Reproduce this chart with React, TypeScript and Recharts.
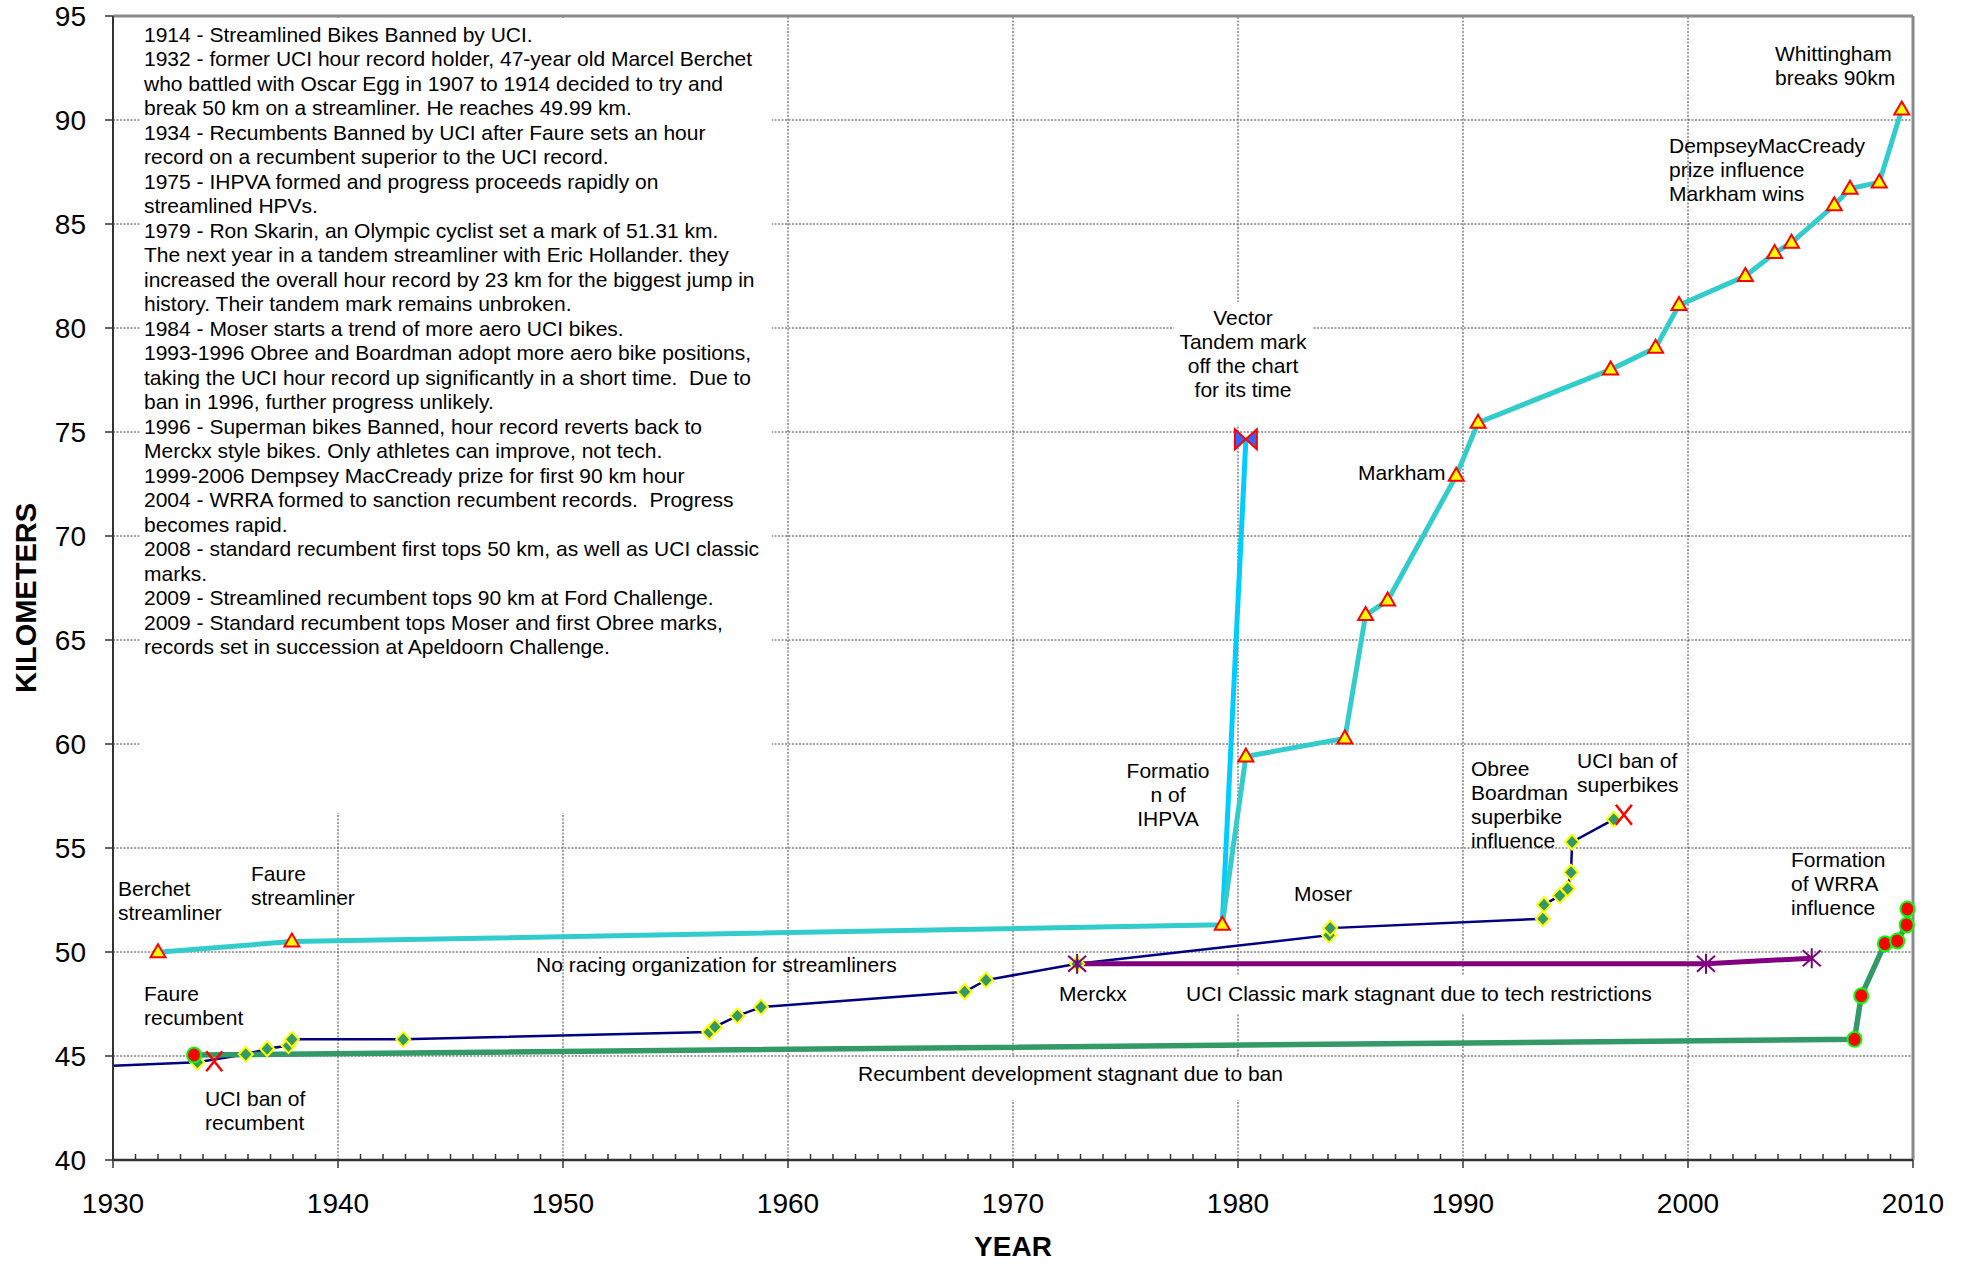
import React from 'react';
import { ComposedChart, Line, XAxis, YAxis, CartesianGrid, ReferenceLine } from 'recharts';

const FONT = '"Liberation Sans", Arial, Helvetica, sans-serif';

// streamlined HPV hour record (cyan, triangles)
const streamYears = [1932.0, 1937.95, 1979.3, 1980.35, 1984.75, 1985.67, 1986.65, 1989.7, 1990.67, 1996.56, 1998.56, 1999.6, 2002.55, 2003.85, 2004.6, 2006.5, 2007.2, 2008.5, 2009.5];
const streamKm = [49.99, 50.5, 51.31, 59.4, 60.27, 66.2, 66.9, 72.9, 75.45, 78.0, 79.05, 81.1, 82.5, 83.6, 84.1, 85.9, 86.7, 87.0, 90.5];

// Vector tandem jump (bright blue, bowtie at the top)
const tandemYears = [1979.3, 1980.35];
const tandemKm = [51.31, 74.65];

// UCI hour record (navy, diamonds) - the first entry is where the line enters the chart
const uciYears = [1930, 1933.75, 1935.9, 1936.85, 1937.8, 1937.95, 1942.9, 1956.5, 1956.75, 1957.75, 1958.8, 1967.85, 1968.8, 1972.85, 1984.05, 1984.1, 1993.55, 1993.6, 1994.3, 1994.65, 1994.8, 1994.85, 1996.7];
const uciKm = [44.53, 44.7, 45.08, 45.35, 45.5, 45.8, 45.8, 46.15, 46.4, 46.93, 47.35, 48.09, 48.65, 49.43, 50.81, 51.15, 51.6, 52.27, 52.71, 53.04, 53.83, 55.29, 56.38];

// UCI classic (Merckx style) mark (purple, asterisks)
const classicYears = [1972.85, 2000.8, 2005.5];
const classicKm = [49.43, 49.44, 49.7];

// standard recumbent (green, red circles)
const recumbYears = [1933.6, 2007.4, 2007.7, 2008.75, 2009.3, 2009.72, 2009.75];
const recumbKm = [45.05, 45.8, 47.9, 50.4, 50.53, 51.3, 52.07];

// UCI bans (red X)
const banYears = [1934.5, 1997.15];
const banKm = [44.75, 56.6];

const Y_TICKS = [40, 45, 50, 55, 60, 65, 70, 75, 80, 85, 90, 95];
const X_LABELS = [1930, 1940, 1950, 1960, 1970, 1980, 1990, 2000, 2010];
const X_GRID = [1940, 1950, 1960, 1970, 1980, 1990, 2000];
const X_TICKS = Array.from({ length: 81 }, (_, i) => 1930 + i);

const NOTES = [
  '1914 - Streamlined Bikes Banned by UCI.',
  '1932 - former UCI hour record holder, 47-year old Marcel Berchet',
  'who battled with Oscar Egg in 1907 to 1914 decided to try and',
  'break 50 km on a streamliner. He reaches 49.99 km.',
  '1934 - Recumbents Banned by UCI after Faure sets an hour',
  'record on a recumbent superior to the UCI record.',
  '1975 - IHPVA formed and progress proceeds rapidly on',
  'streamlined HPVs.',
  '1979 - Ron Skarin, an Olympic cyclist set a mark of 51.31 km.',
  'The next year in a tandem streamliner with Eric Hollander. they',
  'increased the overall hour record by 23 km for the biggest jump in',
  'history. Their tandem mark remains unbroken.',
  '1984 - Moser starts a trend of more aero UCI bikes.',
  '1993-1996 Obree and Boardman adopt more aero bike positions,',
  'taking the UCI hour record up significantly in a short time.  Due to',
  'ban in 1996, further progress unlikely.',
  '1996 - Superman bikes Banned, hour record reverts back to',
  'Merckx style bikes. Only athletes can improve, not tech.',
  '1999-2006 Dempsey MacCready prize for first 90 km hour',
  '2004 - WRRA formed to sanction recumbent records.  Progress',
  'becomes rapid.',
  '2008 - standard recumbent first tops 50 km, as well as UCI classic',
  'marks.',
  '2009 - Streamlined recumbent tops 90 km at Ford Challenge.',
  '2009 - Standard recumbent tops Moser and first Obree marks,',
  'records set in succession at Apeldoorn Challenge.',
];

const LABELS = [
  { lines: ['Berchet', 'streamliner'], x: 118, y: 896 },
  { lines: ['Faure', 'streamliner'], x: 251, y: 881 },
  { lines: ['Faure', 'recumbent'], x: 144, y: 1001 },
  { lines: ['UCI ban of', 'recumbent'], x: 205, y: 1106 },
  { lines: ['No racing organization for streamliners'], x: 536, y: 972 },
  { lines: ['Merckx'], x: 1059, y: 1001 },
  { lines: ['UCI Classic mark stagnant due to tech restrictions'], x: 1186, y: 1001 },
  { lines: ['Recumbent development stagnant due to ban'], x: 858, y: 1081 },
  { lines: ['Moser'], x: 1294, y: 901 },
  { lines: ['Markham'], x: 1358, y: 480 },
  { lines: ['Formatio', 'n of', 'IHPVA'], x: 1168, y: 778, anchor: 'middle' },
  { lines: ['Vector', 'Tandem mark', 'off the chart', 'for its time'], x: 1243, y: 325, anchor: 'middle' },
  { lines: ['Obree', 'Boardman', 'superbike', 'influence'], x: 1471, y: 776 },
  { lines: ['UCI ban of', 'superbikes'], x: 1577, y: 768 },
  { lines: ['Formation', 'of WRRA', 'influence'], x: 1791, y: 867 },
  { lines: ['DempseyMacCready', 'prize influence', 'Markham wins'], x: 1669, y: 153 },
  { lines: ['Whittingham', 'breaks 90km'], x: 1775, y: 61 },
];

// white backgrounds of the text boxes (they hide the grid behind them)
const BOXES = [
  { x: 140, y: 18, w: 632, h: 795 },
  { x: 1174, y: 302, w: 139, h: 123 },
  { x: 1055, y: 975, w: 607, h: 38 },
  { x: 852, y: 1057, w: 442, h: 43 },
];

const toPoints = (years: number[], km: number[]) => years.map((year, i) => ({ year, km: km[i] }));

const triangleDot = (p: any) => {
  const { cx, cy, index } = p;
  return (
    <polygon
      key={`t-${index}`}
      points={`${cx},${cy - 8} ${cx + 7.5},${cy + 5} ${cx - 7.5},${cy + 5}`}
      fill="#FFFF00"
      stroke="#FF0000"
      strokeWidth={2}
    />
  );
};

const bowtieDot = (p: any) => {
  const { cx, cy, index } = p;
  if (index !== tandemYears.length - 1) return <g key={`b-${index}`} />;
  return (
    <path
      key={`b-${index}`}
      d={`M${cx - 11},${cy - 10} L${cx},${cy} L${cx - 11},${cy + 10} Z M${cx + 11},${cy - 10} L${cx},${cy} L${cx + 11},${cy + 10} Z`}
      fill="#3366FF"
      stroke="#FF0000"
      strokeWidth={2}
    />
  );
};

const diamondDot = (p: any) => {
  const { cx, cy, index, payload } = p;
  if (payload.year <= 1930) return <g key={`d-${index}`} />;
  return (
    <polygon
      key={`d-${index}`}
      points={`${cx},${cy - 7.5} ${cx + 7},${cy} ${cx},${cy + 7.5} ${cx - 7},${cy}`}
      fill="#339966"
      stroke="#FFFF00"
      strokeWidth={2}
    />
  );
};

const starDot = (p: any) => {
  const { cx, cy, index } = p;
  return (
    <g key={`s-${index}`} stroke="#800080" strokeWidth={2}>
      <line x1={cx} y1={cy - 10} x2={cx} y2={cy + 10} />
      <line x1={cx - 9} y1={cy - 8} x2={cx + 9} y2={cy + 8} />
      <line x1={cx - 9} y1={cy + 8} x2={cx + 9} y2={cy - 8} />
    </g>
  );
};

const circleDot = (p: any) => {
  const { cx, cy, index } = p;
  return <ellipse key={`c-${index}`} cx={cx} cy={cy} rx={7} ry={7.5} fill="#FF0000" stroke="#00FF00" strokeWidth={2} />;
};

const crossDot = (p: any) => {
  const { cx, cy, index } = p;
  return (
    <g key={`x-${index}`} stroke="#FF0000" strokeWidth={2.5}>
      <line x1={cx - 8} y1={cy - 10} x2={cx + 8} y2={cy + 10} />
      <line x1={cx - 8} y1={cy + 10} x2={cx + 8} y2={cy - 10} />
    </g>
  );
};

const renderXTick = (p: any) => {
  const { x, y, payload, index } = p;
  const axisY = y - 33;
  const major = payload.value % 10 === 0;
  if (!major) {
    return <line key={`xt-${index}`} x1={x} y1={axisY - 6} x2={x} y2={axisY} stroke="#333" strokeWidth={1.5} />;
  }
  return (
    <g key={`xt-${index}`}>
      <line x1={x} y1={axisY} x2={x} y2={axisY + 8} stroke="#333" strokeWidth={1.5} />
      <text x={x} y={axisY + 53} textAnchor="middle" fontSize={28} fontFamily={FONT} fill="#000">
        {X_LABELS.includes(payload.value) ? payload.value : ''}
      </text>
    </g>
  );
};

export default function App() {
  return (
    <div style={{ position: 'absolute', left: 0, top: 0, width: 1965, height: 1267, background: '#fff' }}>
      <div style={{ position: 'absolute', left: 0, top: 0 }}>
        <ComposedChart width={1965} height={1267} margin={{ top: 16, right: 52, bottom: 0, left: 0 }}>
          <CartesianGrid
            vertical={false}
            stroke="#444"
            strokeDasharray="2 1.5"
            strokeWidth={1}
          />
          {X_GRID.map((v) => (
            <ReferenceLine key={v} x={v} stroke="#444" strokeDasharray="2 1.5" strokeWidth={1} />
          ))}
          <ReferenceLine y={95} stroke="#8a8a8a" strokeWidth={3} />
          <ReferenceLine x={2010} stroke="#8a8a8a" strokeWidth={3} />
          <XAxis
            type="number"
            dataKey="year"
            domain={[1930, 2010]}
            ticks={X_TICKS}
            interval={0}
            height={107}
            tickSize={8}
            tickMargin={25}
            tickLine={false}
            axisLine={{ stroke: '#333', strokeWidth: 2.5 }}
            tick={renderXTick}
          />
          <YAxis
            type="number"
            domain={[40, 95]}
            ticks={Y_TICKS}
            interval={0}
            width={113}
            tickSize={8}
            tickMargin={19}
            axisLine={{ stroke: '#333', strokeWidth: 2 }}
            tickLine={{ stroke: '#333', strokeWidth: 1.5 }}
            tick={{ fontSize: 28, fill: '#000', fontFamily: FONT }}
          />
          <Line data={toPoints(uciYears, uciKm)} dataKey="km" type="linear" stroke="#000080" strokeWidth={2.5} dot={diamondDot} activeDot={false} isAnimationActive={false} />
          <Line data={toPoints(recumbYears, recumbKm)} dataKey="km" type="linear" stroke="#339966" strokeWidth={5.5} dot={circleDot} activeDot={false} isAnimationActive={false} />
          <Line data={toPoints(classicYears, classicKm)} dataKey="km" type="linear" stroke="#800080" strokeWidth={5} dot={starDot} activeDot={false} isAnimationActive={false} />
          <Line data={toPoints(tandemYears, tandemKm)} dataKey="km" type="linear" stroke="#00CCFF" strokeWidth={5} dot={bowtieDot} activeDot={false} isAnimationActive={false} />
          <Line data={toPoints(streamYears, streamKm)} dataKey="km" type="linear" stroke="#33CCCC" strokeWidth={5} dot={triangleDot} activeDot={false} isAnimationActive={false} />
          <Line data={toPoints(banYears, banKm)} dataKey="km" type="linear" stroke="none" dot={crossDot} activeDot={false} isAnimationActive={false} />
        </ComposedChart>
      </div>
      <svg
        width={1965}
        height={1267}
        style={{ position: 'absolute', left: 0, top: 0, pointerEvents: 'none' }}
        fontFamily={FONT}
      >
        {BOXES.map((b, i) => (
          <rect key={i} x={b.x} y={b.y} width={b.w} height={b.h} fill="#fff" />
        ))}
        <text fontSize={21} fill="#000" style={{ whiteSpace: 'pre' }}>
          {NOTES.map((line, i) => (
            <tspan key={i} x={144} y={41.7 + i * 24.5}>
              {line}
            </tspan>
          ))}
        </text>
        {LABELS.map((l, i) => (
          <text key={i} fontSize={21} fill="#000" textAnchor={l.anchor || 'start'}>
            {l.lines.map((line, j) => (
              <tspan key={j} x={l.x} y={l.y + j * 24}>
                {line}
              </tspan>
            ))}
          </text>
        ))}
        <text x={1013} y={1256} textAnchor="middle" fontSize={28} fontWeight="bold" fill="#000">
          YEAR
        </text>
        <text
          x={36}
          y={598}
          textAnchor="middle"
          fontSize={29}
          fontWeight="bold"
          fill="#000"
          transform="rotate(-90 36 598)"
        >
          KILOMETERS
        </text>
      </svg>
    </div>
  );
}
